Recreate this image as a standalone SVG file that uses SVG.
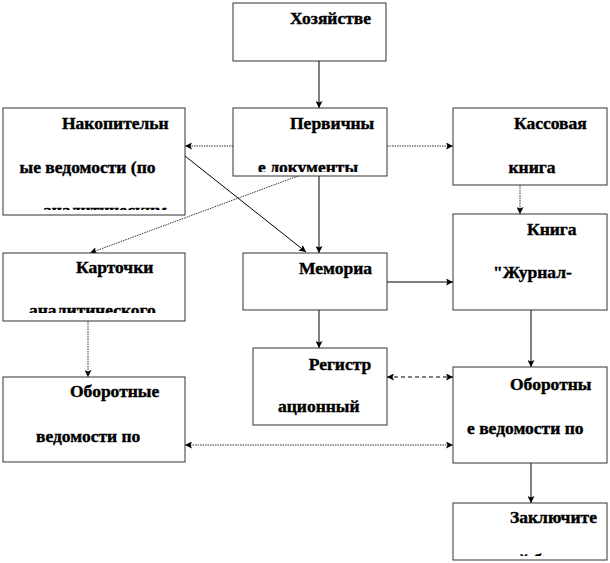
<svg xmlns="http://www.w3.org/2000/svg" width="610" height="563" viewBox="0 0 610 563">
<style>
.box{fill:#fff;stroke:#333;stroke-width:1}
text{font-family:"Liberation Serif","Times New Roman",serif;font-weight:bold;font-size:17.5px;fill:#000;stroke:#000;stroke-width:0.4}
.c{fill:none;stroke:#000;stroke-width:1}
.dot{stroke:#333;stroke-dasharray:1.5,1}
.dash{stroke-dasharray:4,3}
</style>
<defs>
<marker id="ah" markerWidth="8" markerHeight="7" refX="7" refY="3.5" orient="auto" markerUnits="userSpaceOnUse">
<path d="M0,0 L7,3.5 L0,7 L1.5,3.5 z" fill="#000"/>
</marker>
<marker id="as" markerWidth="8" markerHeight="7" refX="0" refY="3.5" orient="auto" markerUnits="userSpaceOnUse">
<path d="M7,0 L0,3.5 L7,7 L5.5,3.5 z" fill="#000"/>
</marker>
<clipPath id="cp1"><rect x="233" y="108" width="154" height="64"/></clipPath>
<clipPath id="cp2"><rect x="3" y="108" width="182" height="102"/></clipPath>
<clipPath id="cp3"><rect x="3" y="253" width="182" height="60"/></clipPath>
<clipPath id="cp4"><rect x="453" y="503" width="154" height="53"/></clipPath>
</defs>

<g id="connectors">
<line class="c" x1="319" y1="61" x2="319" y2="108" marker-end="url(#ah)"/>
<line class="c dot" x1="233" y1="146" x2="185" y2="146" marker-end="url(#ah)"/>
<line class="c dot" x1="387" y1="146" x2="453" y2="146" marker-end="url(#ah)"/>
<line class="c" x1="319" y1="176" x2="319" y2="253" marker-end="url(#ah)"/>
<line class="c dot" x1="298" y1="176" x2="90" y2="253" marker-end="url(#ah)"/>
<line class="c" x1="185" y1="156" x2="306" y2="252" marker-end="url(#ah)"/>
<line class="c dot" x1="520" y1="185" x2="520" y2="214" marker-end="url(#ah)"/>
<line class="c" x1="387" y1="282" x2="453" y2="282" marker-end="url(#ah)"/>
<line class="c" x1="319" y1="310" x2="319" y2="348" marker-end="url(#ah)"/>
<line class="c" x1="531" y1="310" x2="531" y2="367" marker-end="url(#ah)"/>
<line class="c dash" x1="387" y1="377" x2="453" y2="377" marker-start="url(#as)" marker-end="url(#ah)"/>
<line class="c dot" x1="88" y1="321" x2="88" y2="377" marker-end="url(#ah)"/>
<line class="c dot" x1="185" y1="445" x2="453" y2="445" marker-start="url(#as)" marker-end="url(#ah)"/>
<line class="c" x1="531" y1="463" x2="531" y2="503" marker-end="url(#ah)"/>
</g>

<g id="n-hoz">
<rect class="box" x="233" y="3" width="153" height="58"/>
<text x="290" y="24">Хозяйстве</text>
</g>
<g id="n-perv">
<rect class="box" x="233" y="108" width="154" height="68"/>
<text x="290" y="129">Первичны</text>
<text x="258" y="173" clip-path="url(#cp1)">е документы</text>
</g>
<g id="n-nakop">
<rect class="box" x="3" y="108" width="182" height="107"/>
<text x="62" y="129">Накопительн</text>
<text x="19.5" y="173">ые ведомости (по</text>
<text x="43" y="216" clip-path="url(#cp2)">аналитическим</text>
</g>
<g id="n-kass">
<rect class="box" x="453" y="108" width="154" height="77"/>
<text x="514" y="129">Кассовая</text>
<text x="508.5" y="173">книга</text>
</g>
<g id="n-kart">
<rect class="box" x="3" y="253" width="182" height="68"/>
<text x="76" y="273">Карточки</text>
<text x="29" y="316" clip-path="url(#cp3)">аналитического</text>
</g>
<g id="n-mem">
<rect class="box" x="243" y="253" width="144" height="57"/>
<text x="299" y="274">Мемориа</text>
</g>
<g id="n-kniga">
<rect class="box" x="453" y="214" width="154" height="96"/>
<text x="527" y="235">Книга</text>
<text x="493" y="278">"Журнал-</text>
</g>
<g id="n-reg">
<rect class="box" x="253" y="348" width="134" height="77"/>
<text x="308.7" y="370">Регистр</text>
<text x="278" y="412">ационный</text>
</g>
<g id="n-obL">
<rect class="box" x="3" y="377" width="182" height="85"/>
<text x="70" y="397">Оборотные</text>
<text x="36" y="442">ведомости по</text>
</g>
<g id="n-obR">
<rect class="box" x="453" y="367" width="154" height="96"/>
<text x="510" y="390">Оборотны</text>
<text x="467" y="434">е ведомости по</text>
</g>
<g id="n-zakl">
<rect class="box" x="453" y="503" width="154" height="57"/>
<text x="510" y="523">Заключите</text>
<text x="476" y="566" clip-path="url(#cp4)">льный баланс</text>
</g>
</svg>
